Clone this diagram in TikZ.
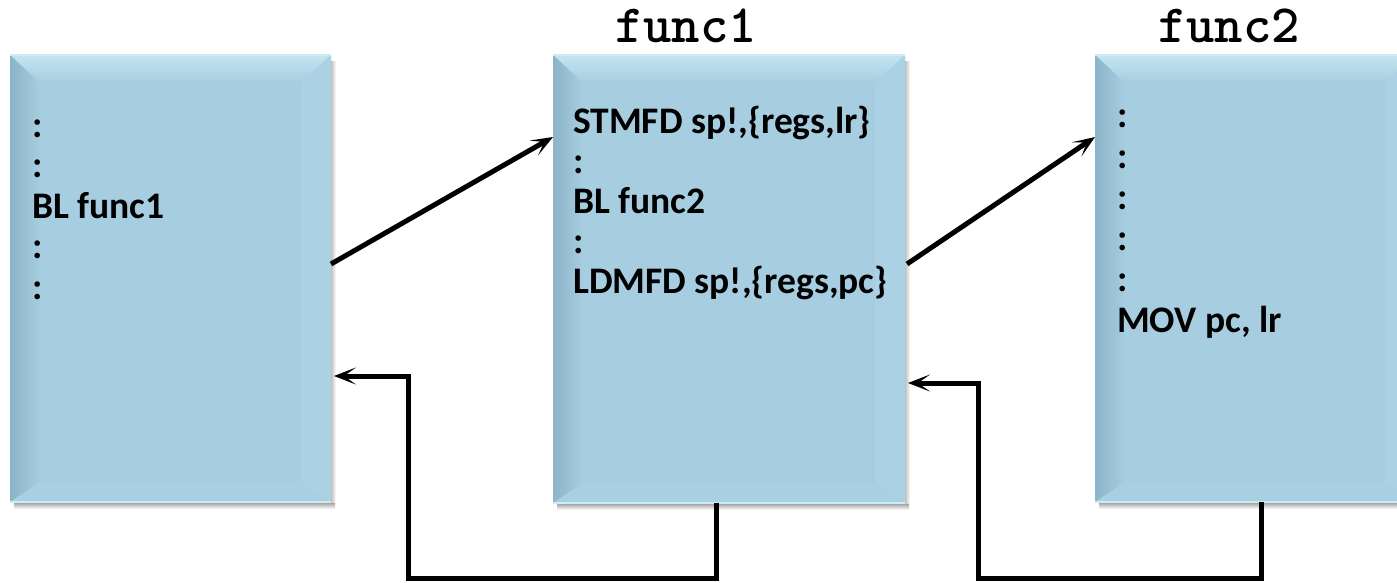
\documentclass[tikz,border=0pt]{standalone}
\usepackage{fontspec}
\setmainfont{Carlito}
\usetikzlibrary{arrows.meta,calc}
\definecolor{boxmain}{HTML}{A6CDE0}
\definecolor{bevtop}{HTML}{C4E4F1}
\definecolor{bevleft}{HTML}{8CB3C7}
\definecolor{bevright}{HTML}{AAD1E4}
\definecolor{bevbot}{HTML}{A9D0E2}
\definecolor{edgelight}{HTML}{CDEAF5}
\tikzset{
  box/.style={rectangle, fill=boxmain, inner sep=0pt, outer sep=0pt, anchor=north west},
  code/.style={font=\bfseries\fontsize{37.5}{40}\selectfont, inner sep=0pt, anchor=base west, text=black},
  title/.style={font=\ttfamily\bfseries\fontsize{54}{54}\selectfont, inner sep=0pt, anchor=base, text height=31pt, text depth=0pt},
  conn/.style={line width=5pt, draw=black, -{Stealth[length=22pt,width=17pt,inset=12pt]}},
}
\newcommand\bevelbox[1]{%
  \shade[top color=black!40, bottom color=white] ($(#1.south west)+(4,0)$) rectangle ($(#1.south east)+(4,7)$);
  \shade[left color=black!25, right color=white] ($(#1.north east)+(0,6)$) rectangle ($(#1.south east)+(5,0)$);
  \shade[top color=bevtop, bottom color=boxmain] (#1.north west) -- (#1.north east) -- ($(#1.north east)+(-30,28)$) -- ($(#1.north west)+(30,28)$) -- cycle;
  \shade[left color=bevleft, right color=boxmain] (#1.north west) -- ($(#1.north west)+(30,28)$) -- ($(#1.south west)+(30,-20)$) -- (#1.south west) -- cycle;
  \fill[bevright] (#1.north east) -- ($(#1.north east)+(-30,28)$) -- ($(#1.south east)+(-30,-20)$) -- (#1.south east) -- cycle;
  \fill[bevbot] (#1.south west) -- ($(#1.south west)+(30,-20)$) -- ($(#1.south east)+(-30,-20)$) -- (#1.south east) -- cycle;
  \draw[line width=1.5pt, edgelight] (#1.north west) -- (#1.north east);
  \draw[line width=2pt, edgelight] (#1.south west) -- (#1.south east);
}
\begin{document}
\begin{tikzpicture}[x=1pt,y=-1pt]
\useasboundingbox (0,0) rectangle (1397,582);
\begin{scope}
\clip (0,0) rectangle (1397,582);
\node[box, minimum width=321pt, minimum height=447pt] (b1) at (10,55) {};
\node[box, minimum width=352pt, minimum height=448pt] (b2) at (553,55) {};
\node[box, minimum width=320pt, minimum height=447pt] (b3) at (1095,55) {};
\bevelbox{b1}
\bevelbox{b2}
\bevelbox{b3}
\end{scope}
\node[title] (f1) at (686,42) {func1};
\node[title] (f2) at (1229,42) {func2};
\foreach \t [count=\i] in {:,:,BL func1,:,:}
  \node[code] (ta\i) at (32,{137+(\i-1)*40.5}) {\t};
\foreach \t [count=\i] in {{STMFD sp!,\{regs,lr\}},:,BL func2,:,{LDMFD sp!,\{regs,pc\}}}
  \node[code] (tb\i) at (573,{133+(\i-1)*40}) {\t};
\foreach \t [count=\i] in {:,:,:,:,:,{MOV pc, lr}}
  \node[code] (tc\i) at (1117,{127+(\i-1)*41}) {\t};
\draw[conn] ($(b1.north east)+(0,209)$) -- ($(b2.north west)+(0,82)$);
\draw[conn] ($(b2.north east)+(2,209)$) -- ($(b3.north west)+(0,82)$);
\draw[conn] ($(b2.south west)+(163,0)$) -- ++(0,75) -| (408,376) -- ($(b1.north east)+(3,321)$);
\draw[conn] ($(b3.south west)+(166,0)$) -- ++(0,76) -| (978,383) -- ($(b2.north east)+(3,328)$);
\end{tikzpicture}
\end{document}
